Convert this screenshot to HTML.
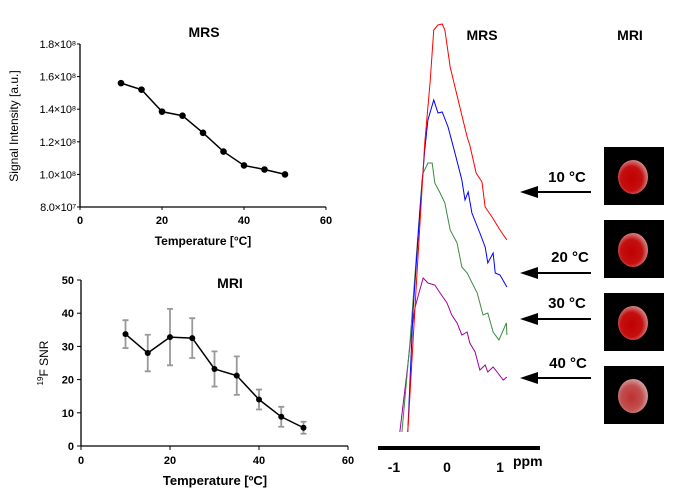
<!DOCTYPE html>
<html><head><meta charset="utf-8"><style>
body{margin:0;background:#fff;width:680px;height:498px;overflow:hidden}
svg{display:block;font-family:"Liberation Sans",Arial,sans-serif}
</style></head><body>
<svg id="fig" width="680" height="498">
<g id="c1"></g>
<g id="c2"></g>
<g id="c3"></g>
<g id="c4"></g>
</svg>
<script>
const temps=[10,15,20,25,30,35,40,45,50];
const signal=[1.56e8,1.52e8,1.385e8,1.36e8,1.255e8,1.14e8,1.055e8,1.03e8,1.0e8];
const sigTicks=[8.0e7,1.0e8,1.2e8,1.4e8,1.6e8,1.8e8];
const sigTickLabels=["8.0×10⁷","1.0×10⁸","1.2×10⁸","1.4×10⁸","1.6×10⁸","1.8×10⁸"];
const xTicks=[0,20,40,60];
const snr=[33.7,28,32.8,32.5,23.2,21.2,14,8.8,5.5];
const snrErr=[4.2,5.5,8.5,6,5.3,5.8,3,3,1.8];
const snrTicks=[0,10,20,30,40,50];
const redPpm=[-0.74,-0.57,-0.42,-0.32,-0.25,-0.17,-0.09,-0.04,0.06,0.21,0.38,0.43,0.55,0.66,0.72,0.85,1.0,1.13];
const redInt=[8,163,297,357,410,415,416,410,373,340,303,295,267,258,233,223,210,200];
const bluePpm=[-0.74,-0.64,-0.51,-0.42,-0.36,-0.25,-0.17,-0.09,0.02,0.15,0.28,0.34,0.40,0.47,0.62,0.72,0.77,0.87,0.91,1.0,1.13];
const blueInt=[8,130,230,290,320,340,327,328,313,287,260,240,248,227,207,193,177,187,167,165,153];
const greenPpm=[-0.85,-0.70,-0.57,-0.47,-0.45,-0.36,-0.28,-0.23,-0.13,-0.04,0.06,0.19,0.28,0.38,0.57,0.68,0.77,0.87,0.98,1.12,1.13];
const greenInt=[8,97,190,260,267,277,277,257,247,237,210,197,173,167,147,125,127,108,100,117,105];
const purplePpm=[-0.89,-0.75,-0.66,-0.60,-0.55,-0.45,-0.36,-0.23,-0.13,0,0.09,0.19,0.28,0.38,0.43,0.53,0.62,0.72,0.77,0.87,0.96,1.06,1.13];
const purpleInt=[8,70,113,133,143,162,157,155,147,137,125,117,105,108,97,88,70,75,68,73,67,60,63];
const ppmTicks=[-1,0,1];
const tempLabels=["10 °C","20 °C","30 °C","40 °C"];
const NS="http://www.w3.org/2000/svg";
function mk(p,t,a,txt){const e=document.createElementNS(NS,t);for(const k in a)e.setAttribute(k,a[k]);if(txt!==undefined)e.textContent=txt;p.appendChild(e);return e;}

(function(){
const g=document.getElementById('c1');
const X=v=>80+v*(326-80)/60, Y=v=>207-(v-8e7)*(207-44)/1e8;
let e=mk(g,'line',{x1:80,y1:44,x2:80,y2:207,stroke:'#000','stroke-width':1.3});

e=mk(g,'line',{x1:80,y1:207,x2:326,y2:207,stroke:'#000','stroke-width':1.3});

sigTicks.forEach((t,i)=>{mk(g,'line',{x1:77,x2:80,y1:Y(t),y2:Y(t),stroke:'#000'});
 e=mk(g,'text',{x:76,y:Y(t)+4,'font-size':11,'text-anchor':'end','letter-spacing':'-0.3'},sigTickLabels[i]);
 });
xTicks.forEach(t=>{mk(g,'line',{x1:X(t),x2:X(t),y1:207,y2:210,stroke:'#000'});
 e=mk(g,'text',{x:X(t),y:224,'font-size':11,'text-anchor':'middle','font-weight':'bold'},t);
 });
e=mk(g,'polyline',{points:temps.map((t,i)=>X(t)+','+Y(signal[i])).join(' '),fill:'none',stroke:'#000','stroke-width':1.5});

temps.forEach((t,i)=>{e=mk(g,'circle',{cx:X(t),cy:Y(signal[i]),r:3.3,fill:'#000'});
 });
e=mk(g,'text',{x:204,y:37,'font-size':14,'font-weight':'bold','text-anchor':'middle'},'MRS');

e=mk(g,'text',{x:203,y:245,'font-size':12,'font-weight':'bold','text-anchor':'middle'},'Temperature [°C]');

e=mk(g,'text',{x:18,y:126,'font-size':12,'text-anchor':'middle',transform:'rotate(-90 18 126)'},'Signal Intensity [a.u.]');

})();

(function(){
const g=document.getElementById('c2');
const X=v=>81+v*(348-81)/60, Y=v=>446-v*(446-280)/50;
let e=mk(g,'line',{x1:81,y1:280,x2:81,y2:446,stroke:'#000','stroke-width':1.3});

e=mk(g,'line',{x1:81,y1:446,x2:348,y2:446,stroke:'#000','stroke-width':1.3});

snrTicks.forEach(t=>{mk(g,'line',{x1:77,x2:81,y1:Y(t),y2:Y(t),stroke:'#000'});
 e=mk(g,'text',{x:74,y:Y(t)+4,'font-size':11,'font-weight':'bold','text-anchor':'end'},t);
 });
xTicks.forEach(t=>{mk(g,'line',{x1:X(t),x2:X(t),y1:446,y2:450,stroke:'#000'});
 e=mk(g,'text',{x:X(t),y:464,'font-size':11,'text-anchor':'middle','font-weight':'bold'},t);
 });
temps.forEach((t,i)=>{const x=X(t),y1=Y(snr[i]+snrErr[i]),y2=Y(snr[i]-snrErr[i]);
 e=mk(g,'path',{d:`M${x},${y1}V${y2}M${x-3},${y1}H${x+3}M${x-3},${y2}H${x+3}`,stroke:'#999','stroke-width':1.8,fill:'none'});
 });
e=mk(g,'polyline',{points:temps.map((t,i)=>X(t)+','+Y(snr[i])).join(' '),fill:'none',stroke:'#000','stroke-width':1.5});

temps.forEach((t,i)=>{e=mk(g,'circle',{cx:X(t),cy:Y(snr[i]),r:3,fill:'#000'});
 });
e=mk(g,'text',{x:230,y:288,'font-size':14,'font-weight':'bold','text-anchor':'middle'},'MRI');

e=mk(g,'text',{x:215,y:485,'font-size':13,'font-weight':'bold','text-anchor':'middle'},'Temperature [ºC]');

e=mk(g,'text',{x:48,y:363,'font-size':12,'text-anchor':'middle',transform:'rotate(-90 48 363)'});
e.innerHTML='<tspan font-size="8" dy="-5">19</tspan><tspan dy="5">F SNR</tspan>';

})();

(function(){
const g=document.getElementById('c3');
const X=v=>447+v*53, Y=v=>440-v;
const series=[[redPpm,redInt,'#ff0000','red-spectrum-10c'],[bluePpm,blueInt,'#0000ff','blue-spectrum-20c'],[greenPpm,greenInt,'#3f8a3f','green-spectrum-30c'],[purplePpm,purpleInt,'#a000a0','purple-spectrum-40c']];
let e;
series.slice().reverse().forEach(s=>{e=mk(g,'polyline',{points:s[0].map((p,i)=>X(p)+','+Y(s[1][i])).join(' '),fill:'none',stroke:s[2],'stroke-width':1});
 });
e=mk(g,'rect',{x:378,y:446,width:162,height:4,fill:'#000'});

ppmTicks.forEach(t=>{e=mk(g,'text',{x:X(t),y:472,'font-size':14,'font-weight':'bold','text-anchor':'middle'},t);
 });
e=mk(g,'text',{x:513,y:466,'font-size':14,'font-weight':'bold'},'ppm');

e=mk(g,'text',{x:482,y:40,'font-size':14,'font-weight':'bold','text-anchor':'middle'},'MRS');

})();

(function(){
const g=document.getElementById('c4');
const arrowY=[192,273,319,378], labelY=[182,262,308,368], labelX=[567,570,567,568], imgY=[147,220,293,366];
let e=mk(g,'text',{x:630,y:40,'font-size':14,'font-weight':'bold','text-anchor':'middle'},'MRI');

const defs=mk(g,'defs',{});
const rg=mk(defs,'radialGradient',{id:'rg',cx:'0.45',cy:'0.55',r:'0.6'});
mk(rg,'stop',{offset:'0','stop-color':'#c00000'});mk(rg,'stop',{offset:'0.6','stop-color':'#c41010'});mk(rg,'stop',{offset:'1','stop-color':'#d8a0a0'});
const rg2=mk(defs,'radialGradient',{id:'rg2',cx:'0.45',cy:'0.55',r:'0.6'});
mk(rg2,'stop',{offset:'0','stop-color':'#c03030'});mk(rg2,'stop',{offset:'0.6','stop-color':'#c05050'});mk(rg2,'stop',{offset:'1','stop-color':'#d8b0b0'});
tempLabels.forEach((l,i)=>{
 e=mk(g,'line',{x1:536,y1:arrowY[i],x2:591,y2:arrowY[i],stroke:'#000','stroke-width':2});
 
 mk(g,'polygon',{points:`520,${arrowY[i]} 538,${arrowY[i]-6} 538,${arrowY[i]+6}`,fill:'#000'});
 e=mk(g,'text',{x:labelX[i],y:labelY[i],'font-size':15,'font-weight':'bold','text-anchor':'middle'},l);
 
 e=mk(g,'rect',{x:604,y:imgY[i],width:60,height:58,fill:'#000'});
 
 mk(g,'ellipse',{cx:633,cy:imgY[i]+30,rx:15,ry:17,fill:i==3?'url(#rg2)':'url(#rg)'});
});
})();
</script>
</body></html>
